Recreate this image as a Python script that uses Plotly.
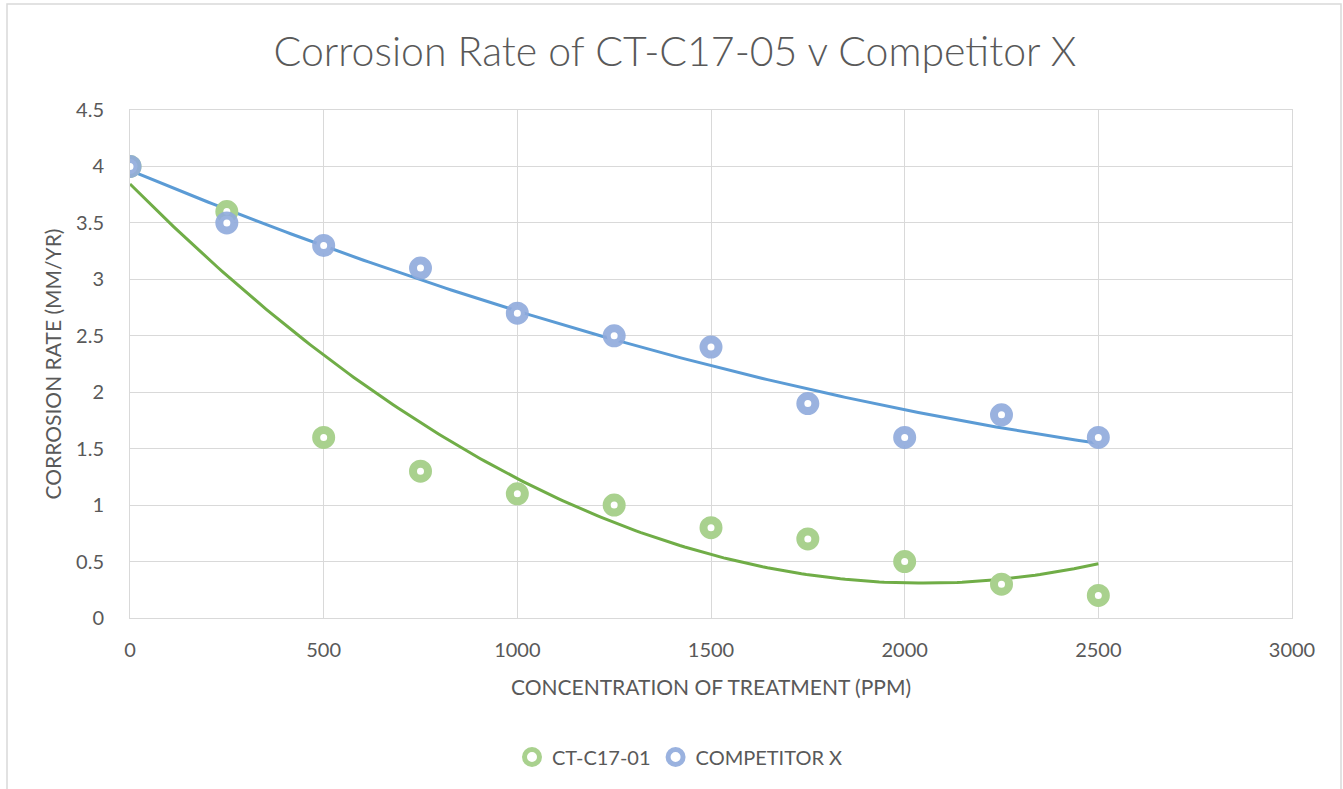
import numpy as np
import plotly.graph_objects as go

conc = [0, 250, 500, 750, 1000, 1250, 1500, 1750, 2000, 2250, 2500]
ct_c17 = [4.0, 3.6, 1.6, 1.3, 1.1, 1.0, 0.8, 0.7, 0.5, 0.3, 0.2]
competitor = [4.0, 3.5, 3.3, 3.1, 2.7, 2.5, 2.4, 1.9, 1.6, 1.8, 1.6]

x_ticks = [0, 500, 1000, 1500, 2000, 2500, 3000]
y_ticks = [0, 0.5, 1, 1.5, 2, 2.5, 3, 3.5, 4, 4.5]

GREEN_M = "#a9d18e"
BLUE_M = "rgba(143,170,220,0.9)"
GREEN_L = "#70ad47"
BLUE_L = "#5b9bd5"
TXT = "#595959"
GRID = "#d9d9d9"
FONT = "Lato"

xs = np.linspace(conc[0], conc[-1], 200)
fit_g = np.polyval(np.polyfit(conc, ct_c17, 2), xs)
fit_b = np.polyval(np.polyfit(conc, competitor, 2), xs)

fig = go.Figure()
fig.add_trace(go.Scatter(x=xs, y=fit_g, mode="lines", line=dict(color=GREEN_L, width=3),
                         showlegend=False, hoverinfo="skip"))
fig.add_trace(go.Scatter(x=xs, y=fit_b, mode="lines", line=dict(color=BLUE_L, width=3),
                         showlegend=False, hoverinfo="skip"))
fig.add_trace(go.Scatter(x=conc, y=ct_c17, mode="markers", name="CT-C17-01",
                         marker=dict(symbol="circle", size=15, color="white",
                                     line=dict(color=GREEN_M, width=8))))
fig.add_trace(go.Scatter(x=conc, y=competitor, mode="markers", name="COMPETITOR X",
                         marker=dict(symbol="circle", size=15, color="white",
                                     line=dict(color=BLUE_M, width=8))))

L, T, R, B = 130, 110, 51, 171
PW, PH = 1343 - L - R, 789 - T - B

fig.update_layout(
    width=1343, height=789,
    margin=dict(l=L, r=R, t=T, b=B),
    paper_bgcolor="white", plot_bgcolor="white",
    font=dict(family=FONT, color=TXT, size=20),
    title=dict(text="Corrosion Rate of CT-C17-05 v Competitor X", x=675 / 1343, xref="container",
               xanchor="center", y=1 - 52 / 789, yanchor="middle",
               font=dict(family=FONT, size=41, color=TXT, weight=300)),
    xaxis=dict(range=[0, 3000], tickvals=x_ticks, showgrid=True, gridcolor=GRID, gridwidth=1,
               zeroline=False, showline=True, mirror=True, linecolor=GRID, ticks="",
               ticklabelstandoff=14,
               tickfont=dict(size=20, color=TXT),
               title=dict(text="CONCENTRATION OF TREATMENT (PPM)", font=dict(size=21, color=TXT),
                          standoff=20)),
    yaxis=dict(range=[0, 4.5], tickvals=y_ticks, showgrid=True, gridcolor=GRID, gridwidth=1,
               zeroline=False, showline=True, mirror=True, linecolor=GRID, ticks="",
               ticklabelstandoff=21,
               tickfont=dict(size=20, color=TXT),
               title=dict(text="CORROSION RATE (MM/YR)", font=dict(size=21, color=TXT),
                          standoff=8)),
    legend=dict(orientation="h", x=(680 - L) / PW, xanchor="center", y=-139 / PH, yanchor="middle",
                font=dict(size=20, color=TXT)),
    shapes=[dict(type="rect", xref="paper", yref="paper",
                 x0=(7 - L) / PW, x1=(1341 - L) / PW,
                 y0=-(B + 30) / PH, y1=(PH + T - 4) / PH,
                 line=dict(color=GRID, width=1.5), fillcolor="rgba(0,0,0,0)", layer="below")],
)

fig.write_html("out.html", config={"displayModeBar": False},
               post_script="document.body.style.margin='0';document.body.style.overflow='hidden';")
